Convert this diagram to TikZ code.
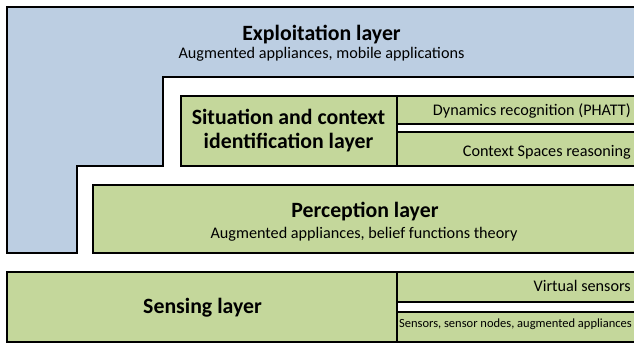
\documentclass[tikz,border=0pt]{standalone}
\usepackage{fontspec}
\setmainfont{Carlito}
\definecolor{bluefill}{HTML}{BCCEE2}
\definecolor{greenfill}{HTML}{C4D79B}
\begin{document}
\begin{tikzpicture}[x=1pt,y=-1pt,
  box/.style={draw=black,line width=1.7pt,fill=greenfill},
  ttl/.style={font=\bfseries\fontsize{21.8}{24}\selectfont,inner sep=0pt,anchor=base},
  sub/.style={font=\fontsize{16.2}{19}\selectfont,inner sep=0pt,anchor=base},
  rt/.style={font=\fontsize{16.2}{19}\selectfont,inner sep=0pt,anchor=base east},
]
\useasboundingbox (0,0) rectangle (634,343);
\clip (0,0) rectangle (634,343);
% exploitation layer (L shape)
\draw[line width=1.7pt,fill=bluefill] (7,7) -- (650,7) -- (650,77) -- (163,77) -- (163,166) -- (77,166) -- (77,253) -- (7,253) -- cycle;
\node[ttl] (expt) at (321.5,40.5) {Exploitation layer};
\node[sub] (exps) at (321.5,58) {Augmented appliances, mobile applications};
% situation layer
\path[box] (181,96) rectangle (397,166);
\path[box] (397,96) rectangle (650,124);
\path[box] (397,132) rectangle (650,166);
\node[ttl] (sit1) at (288.5,124) {Situation and context};
\node[ttl] (sit2) at (288.5,148) {identification layer};
\node[rt] (dyn) at (631,115) {Dynamics recognition (PHATT)};
\node[rt] (ctx) at (631,156) {Context Spaces reasoning};
% perception layer
\path[box] (93,185) rectangle (650,253);
\node[ttl] (pert) at (365,217) {Perception layer};
\node[sub] (pers) at (364,238) {Augmented appliances, belief functions theory};
% sensing layer
\path[box] (7,272) rectangle (397,342);
\path[box] (397,272) rectangle (650,302);
\path[box] (397,312) rectangle (650,342);
\node[ttl] (sen) at (202.5,313) {Sensing layer};
\node[rt] (vs) at (631,291) {Virtual sensors};
\node[rt,font=\fontsize{12.5}{15}\selectfont] (sn) at (632,327) {Sensors, sensor nodes, augmented appliances};
\end{tikzpicture}
\end{document}
